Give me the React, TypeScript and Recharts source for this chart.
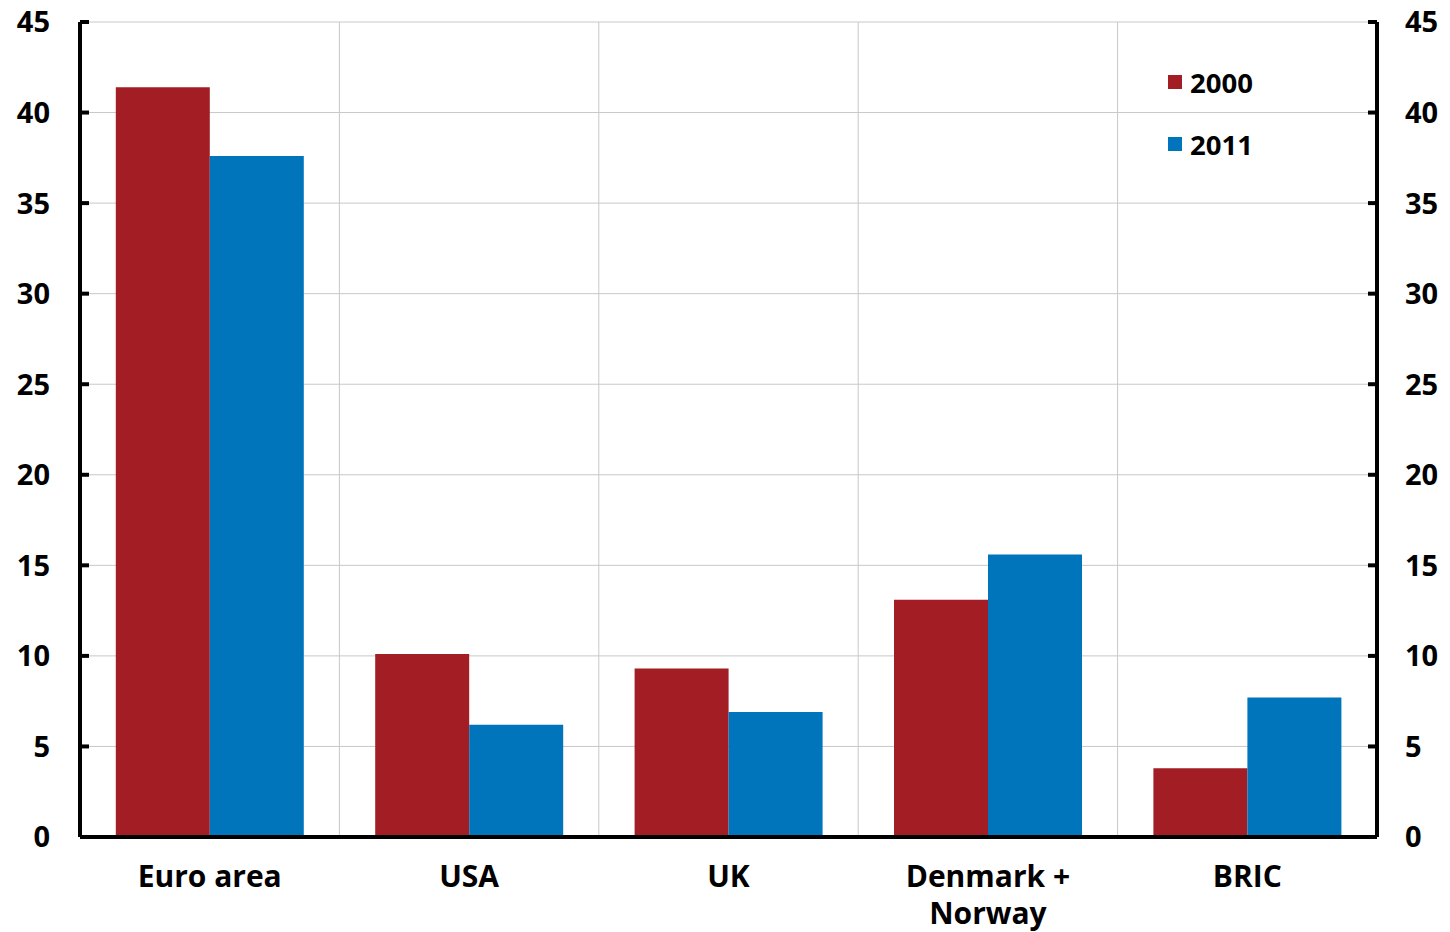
import { BarChart, Bar, Line, XAxis, YAxis, CartesianGrid, Legend } from 'recharts'

const categories = ['Euro area', 'USA', 'UK', 'Denmark + Norway', 'BRIC']
const values2000 = [41.4, 10.1, 9.3, 13.1, 3.8]
const values2011 = [37.6, 6.2, 6.9, 15.6, 7.7]
const yTicks = [0, 5, 10, 15, 20, 25, 30, 35, 40, 45]
const boundaryTicks = [1, 2, 3, 4]

const RED = '#a31d24'
const BLUE = '#0175bb'
const FONT = '"Open Sans", "DejaVu Sans", sans-serif'

const data = categories.map((name, i) => ({
  name,
  slot: i + 0.5,
  '2000': values2000[i],
  '2011': values2011[i],
}))

const yLabelStyle = { fontFamily: FONT, fontWeight: 700, fontSize: 29, fill: '#000' }
const xLabelStyle = { fontFamily: FONT, fontWeight: 700, fontSize: 30, fill: '#000' }

function LeftTick({ x, y, payload }: any) {
  return (
    <g>
      <line x1={x} x2={x + 9} y1={y} y2={y} stroke="#000" strokeWidth={4} />
      <text x={x - 30} y={y} dy="0.36em" textAnchor="end" style={yLabelStyle}>
        {payload.value}
      </text>
    </g>
  )
}

function RightTick({ x, y, payload }: any) {
  return (
    <g>
      <line x1={x - 9} x2={x} y1={y} y2={y} stroke="#000" strokeWidth={4} />
      <text x={x + 28} y={y} dy="0.36em" textAnchor="start" style={yLabelStyle}>
        {payload.value}
      </text>
    </g>
  )
}

// long names break after the "+"
function CategoryTick({ x, y, payload }: any) {
  const lines = String(payload.value).replace(' + ', ' +\n').split('\n')
  return (
    <text x={x} y={y + 50} textAnchor="middle" style={xLabelStyle}>
      {lines.map((line, i) => (
        <tspan key={i} x={x} dy={i === 0 ? 0 : 37}>
          {line}
        </tspan>
      ))}
    </text>
  )
}

function BoundaryTick({ x, y }: any) {
  return <line x1={x} x2={x} y1={y - 9} y2={y} stroke="#000" strokeWidth={4} />
}

function LegendContent({ payload }: any) {
  const items = (payload || []).filter((item: any) => item.type !== 'none')
  return (
    <div style={{ fontFamily: FONT, fontWeight: 700, fontSize: 27.5 }}>
      {items.map((item: any) => (
        <div key={item.value} style={{ display: 'flex', alignItems: 'center', height: 62 }}>
          <span style={{ width: 14, height: 14, background: item.color, marginRight: 8 }} />
          <span>{item.value}</span>
        </div>
      ))}
    </div>
  )
}

export default function App() {
  return (
    <div style={{ position: 'absolute', left: 0, top: 0, background: '#fff' }}>
      <BarChart
        width={1450}
        height={932}
        data={data}
        margin={{ top: 22, right: 0, bottom: 0, left: 0 }}
        barCategoryGap="13.8%"
        barGap={0}
      >
        <CartesianGrid
          xAxisId="bounds"
          yAxisId="left"
          stroke="#c8c8c8"
          strokeWidth={1}
          verticalValues={boundaryTicks}
        />
        <XAxis
          xAxisId="bounds"
          dataKey="slot"
          type="number"
          domain={[0, 5]}
          ticks={boundaryTicks}
          allowDataOverflow
          height={0}
          axisLine={false}
          tickLine={false}
          tickSize={0}
          tickMargin={0}
          tick={<BoundaryTick />}
        />
        <XAxis
          xAxisId="cat"
          dataKey="name"
          height={95}
          axisLine={{ stroke: '#000', strokeWidth: 4 }}
          tickLine={false}
          tickSize={0}
          tickMargin={0}
          interval={0}
          tick={<CategoryTick />}
        />
        <YAxis
          yAxisId="left"
          width={80}
          domain={[0, 45]}
          ticks={yTicks}
          axisLine={{ stroke: '#000', strokeWidth: 4 }}
          tickLine={false}
          tickSize={0}
          tickMargin={0}
          tick={<LeftTick />}
        />
        <YAxis
          yAxisId="right"
          orientation="right"
          width={73}
          domain={[0, 45]}
          ticks={yTicks}
          axisLine={{ stroke: '#000', strokeWidth: 4 }}
          tickLine={false}
          tickSize={0}
          tickMargin={0}
          tick={<RightTick />}
        />
        <Legend
          layout="vertical"
          align="center"
          verticalAlign="middle"
          content={<LegendContent />}
          wrapperStyle={{ position: 'absolute', left: 1168, top: 51, width: 'auto' }}
        />
        <Bar xAxisId="cat" yAxisId="left" dataKey="2000" fill={RED} isAnimationActive={false} />
        <Bar xAxisId="cat" yAxisId="left" dataKey="2011" fill={BLUE} isAnimationActive={false} />
        {/* invisible series so the right axis gets a scale and draws its ticks */}
        <Line
          xAxisId="cat"
          yAxisId="right"
          dataKey="2000"
          stroke="none"
          strokeWidth={0}
          dot={false}
          activeDot={false}
          legendType="none"
          isAnimationActive={false}
        />
      </BarChart>
    </div>
  )
}
